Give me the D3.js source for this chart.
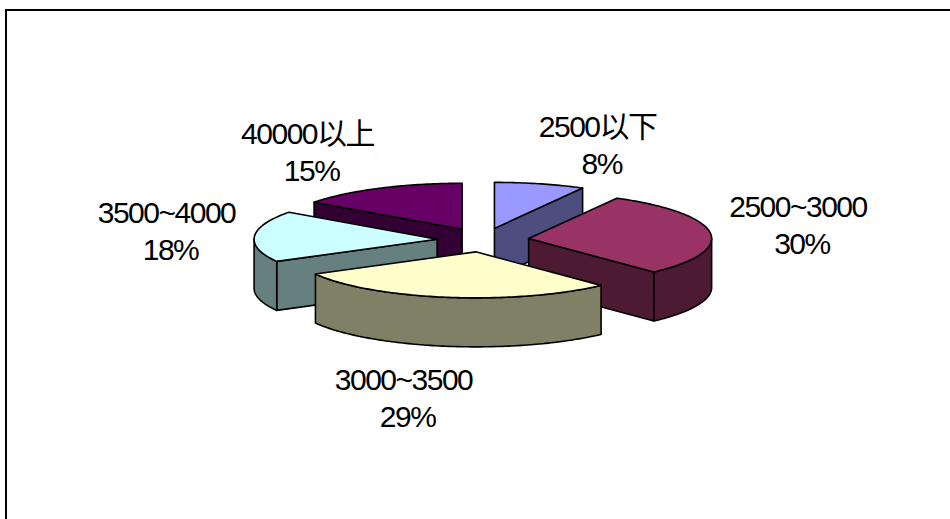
<!DOCTYPE html>
<html>
<head>
<meta charset="utf-8">
<script src="https://cdn.jsdelivr.net/npm/d3@7"></script>
<style>
  html, body { margin: 0; padding: 0; background: #fff; overflow: hidden; }
  svg { display: block; }
  .lbl { font-family: "Liberation Sans", "Noto Sans CJK SC", sans-serif; font-size: 30px; letter-spacing: -1.5px; fill: #000; }
</style>
</head>
<body>
<svg id="chart" width="950" height="519"></svg>
<script>
// ---- data ----
const categories = ["2500以下", "2500~3000", "3000~3500", "3500~4000", "40000以上"];
const values = [8, 30, 29, 18, 15];
const percentLabels = ["8%", "30%", "29%", "18%", "15%"];

// ---- styles ----
const topColors = ["#9999FF", "#993366", "#FFFFCC", "#CCFFFF", "#660066"];
const sideColors = topColors.map(c => d3.interpolateRgb(c, "#000")(0.5));

// ---- geometry ----
const W = 950, H = 519;
const cx = 483, cy = 240;      // pie center (top face)
const rx = 183, ry = 46;       // ellipse radii of top face
const depth = 49;              // thickness
const ex = 46, ey = 12;        // explosion offset

const svg = d3.select("#chart");

// frame (only top and left edges fall inside the window)
svg.append("path")
  .attr("d", `M6,${H + 20}V10H${W + 20}`)
  .attr("fill", "none").attr("stroke", "#000").attr("stroke-width", 2);

const arcs = d3.pie().sort(null).value(d => d).startAngle(0).endAngle(2 * Math.PI)(values);

function offsetOf(d) {
  const m = (d.startAngle + d.endAngle) / 2;
  return [ex * Math.sin(m), -ey * Math.cos(m)];
}
function pt(a, z, off) {
  return [cx + off[0] + rx * Math.sin(a), cy + off[1] - ry * Math.cos(a) + z];
}
function arcPts(a0, a1, z, off) {
  const n = Math.max(2, Math.ceil(Math.abs(a1 - a0) / (Math.PI / 180)));
  return d3.range(n + 1).map(i => pt(a0 + (a1 - a0) * i / n, z, off));
}
const line = pts => "M" + pts.map(p => p[0].toFixed(2) + "," + p[1].toFixed(2)).join("L") + "Z";

const order = arcs.map((d, i) => i).sort((a, b) => {
  const ma = (arcs[a].startAngle + arcs[a].endAngle) / 2;
  const mb = (arcs[b].startAngle + arcs[b].endAngle) / 2;
  return (-Math.cos(ma)) - (-Math.cos(mb));
});

const gPie = svg.append("g").attr("stroke", "#000").attr("stroke-width", 1.6).attr("stroke-linejoin", "round");

order.forEach(i => {
  const d = arcs[i];
  const off = offsetOf(d);
  const a0 = d.startAngle, a1 = d.endAngle;
  const apexT = [cx + off[0], cy + off[1]];
  const apexB = [apexT[0], apexT[1] + depth];
  const g = gPie.append("g").attr("class", "slice");

  // radial faces
  if (Math.sin(a0) < -1e-6) {
    g.append("path").attr("fill", sideColors[i])
      .attr("d", line([apexT, pt(a0, 0, off), pt(a0, depth, off), apexB]));
  }
  if (Math.sin(a1) > 1e-6) {
    g.append("path").attr("fill", sideColors[i])
      .attr("d", line([apexT, pt(a1, 0, off), pt(a1, depth, off), apexB]));
  }
  // outer wall (front half only)
  const b0 = Math.max(a0, Math.PI / 2), b1 = Math.min(a1, 3 * Math.PI / 2);
  if (b1 > b0) {
    const topArc = arcPts(b0, b1, 0, off);
    const botArc = arcPts(b1, b0, depth, off);
    g.append("path").attr("fill", sideColors[i]).attr("d", line(topArc.concat(botArc)));
  }
  // top face
  g.append("path").attr("fill", topColors[i])
    .attr("d", line([apexT].concat(arcPts(a0, a1, 0, off))));
});

// labels
const LA = 257, LB = 60, LY = 95, LC = 7, LF = 68;
const gLbl = svg.append("g");
arcs.forEach((d, i) => {
  const m = (d.startAngle + d.endAngle) / 2;
  const s = Math.sin(m), c = -Math.cos(m);
  const x = cx + LA * s + LB * Math.tanh(5 * s);
  const y = cy + LY * c + LC + Math.max(0, c) * LF;
  const t = gLbl.append("text").attr("class", "lbl").attr("text-anchor", "middle");
  t.append("tspan").attr("x", x).attr("y", y - 18).text(categories[i]);
  t.append("tspan").attr("x", x + 4).attr("y", y + 19).text(percentLabels[i]);
});
</script>
</body>
</html>
